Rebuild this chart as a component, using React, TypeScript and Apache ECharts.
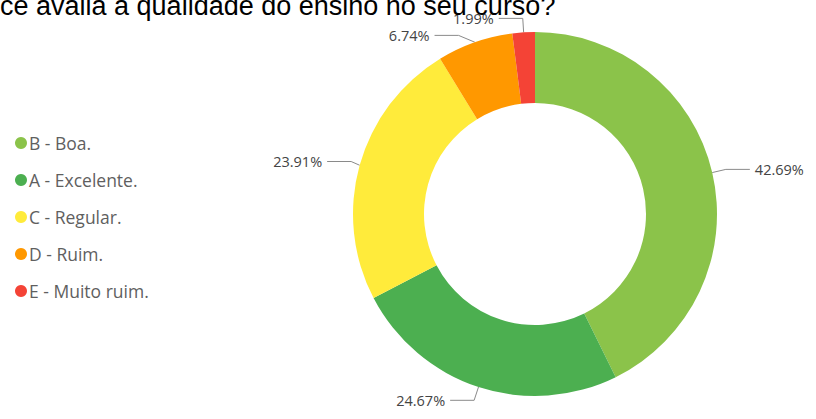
import React, { useEffect, useRef } from "react";
import * as echarts from "echarts";

const titleText = "ce avalia a qualidade do ensino no seu curso?";
const categories = ["B - Boa.", "A - Excelente.", "C - Regular.", "D - Ruim.", "E - Muito ruim."];
const values = [42.69, 24.67, 23.91, 6.74, 1.99];
const colors = ["#8BC34A", "#4CAF50", "#FFEB3B", "#FF9800", "#F44336"];

export default function App() {
  const ref = useRef<HTMLDivElement>(null);
  useEffect(() => {
    if (!ref.current) return;
    const chart = echarts.init(ref.current, null, { renderer: "svg" });
    chart.setOption({
      animation: false,
      backgroundColor: "#ffffff",
      color: colors,
      graphic: [
        {
          type: "text",
          left: 0,
          top: -8,
          z: 100,
          style: {
            text: titleText,
            font: '27px "Liberation Sans", Arial, sans-serif',
            fill: "#000000",
          },
        },
      ],
      legend: {
        orient: "vertical",
        left: 10,
        top: 129,
        icon: "circle",
        itemWidth: 12,
        itemHeight: 12,
        itemGap: 19,
        textStyle: {
          color: "#5f5f5f",
          fontSize: 17.5,
          lineHeight: 18,
          fontFamily: '"Open Sans", "Noto Sans", sans-serif',
          padding: [0, 0, 0, -3],
        },
        data: categories,
      },
      series: [
        {
          type: "pie",
          center: [535, 214],
          radius: [111, 182],
          startAngle: 90,
          clockwise: true,
          avoidLabelOverlap: true,
          label: {
            show: true,
            position: "outside",
            formatter: "{c}%",
            color: "#444444",
            fontSize: 14.5,
            fontFamily: '"Open Sans", "Noto Sans", sans-serif',
          },
          labelLine: {
            show: true,
            length: 14,
            length2: 24,
            lineStyle: { color: "#8a8a8a", width: 1 },
          },
          emphasis: { disabled: true },
          data: categories.map((name, i) => ({ name, value: values[i] })),
        },
      ],
    });
    return () => chart.dispose();
  }, []);
  return (
    <div
      ref={ref}
      style={{ position: "fixed", left: 0, top: 0, width: 816, height: 419 }}
    />
  );
}
